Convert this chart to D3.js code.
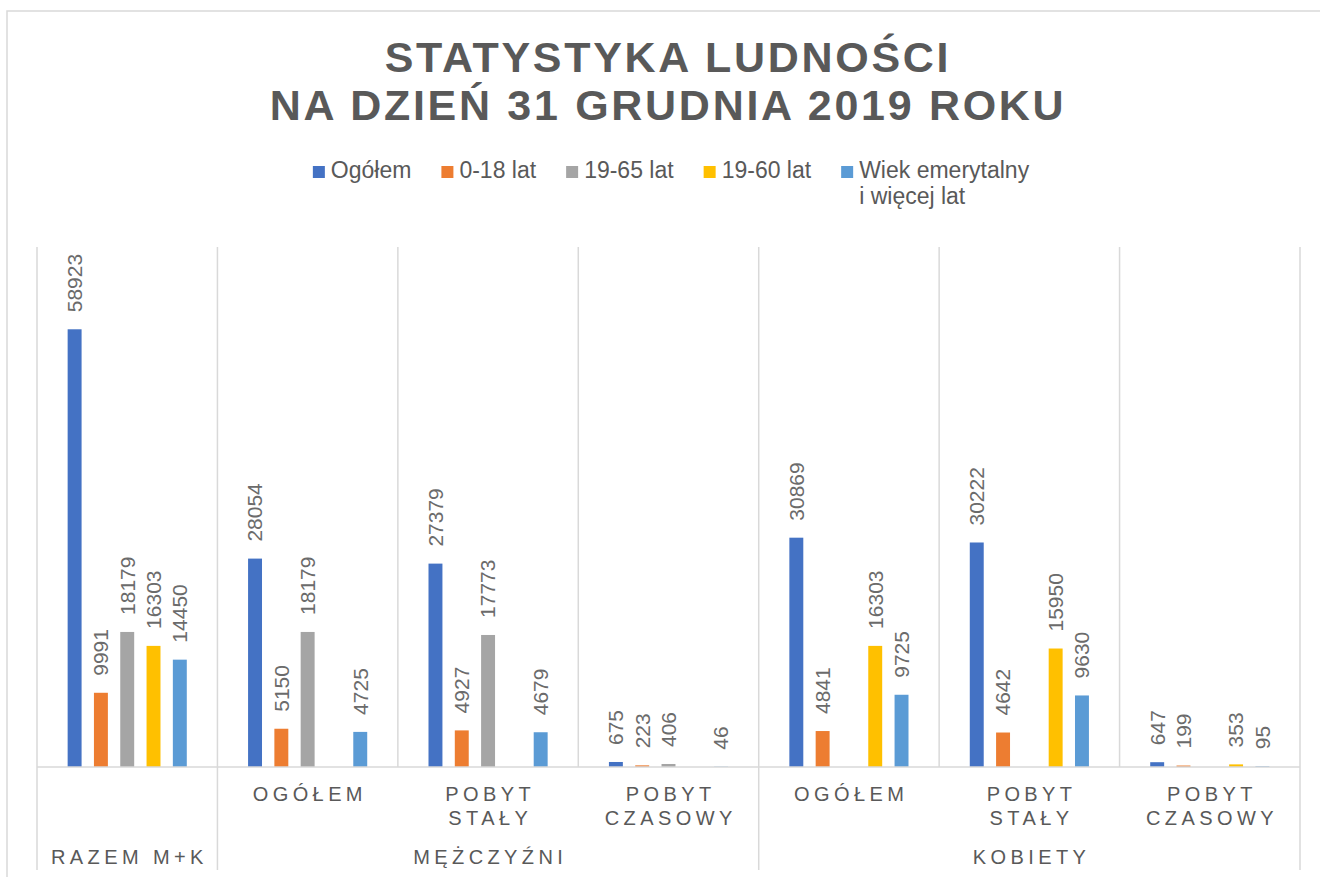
<!DOCTYPE html>
<html>
<head>
<meta charset="utf-8">
<script src="https://cdn.jsdelivr.net/npm/d3@7/dist/d3.min.js"></script>
<style>
  html, body { margin: 0; padding: 0; background: #fff; }
  svg { display: block; font-family: "Liberation Sans", Arial, sans-serif; }
</style>
</head>
<body>
<svg id="chart" width="1320" height="877"></svg>
<script>
// ---- data ----
const titleLines = ["STATYSTYKA LUDNOŚCI", "NA DZIEŃ 31 GRUDNIA 2019 ROKU"];
const categories = ["", "OGÓŁEM", "POBYT\nSTAŁY", "POBYT\nCZASOWY", "OGÓŁEM", "POBYT\nSTAŁY", "POBYT\nCZASOWY"];
const groupNames = ["RAZEM M+K", "MĘŻCZYŹNI", "KOBIETY"];
const groupSizes = [1, 3, 3];
const seriesNames = ["Ogółem", "0-18 lat", "19-65 lat", "19-60 lat", "Wiek emerytalny\ni więcej lat"];
const seriesColors = ["#4472C4", "#ED7D31", "#A5A5A5", "#FFC000", "#5B9BD5"];
const valOgolem   = [58923, 28054, 27379, 675, 30869, 30222, 647];
const val0_18     = [9991, 5150, 4927, 223, 4841, 4642, 199];
const val19_65    = [18179, 18179, 17773, 406, null, null, null];
const val19_60    = [16303, null, null, null, 16303, 15950, 353];
const valEmeryt   = [14450, 4725, 4679, 46, 9725, 9630, 95];
const seriesValues = [valOgolem, val0_18, val19_65, val19_60, valEmeryt];
const yDomain = [0, 70000];

// ---- layout ----
const svg = d3.select("#chart");
const plot = { left: 37, right: 1300, top: 247, bottom: 767 };
const gridColor = "#d9d9d9";
const textColor = "#595959";

// chart border
svg.append("rect").attr("x", 7).attr("y", 11).attr("width", 1400).attr("height", 1000)
  .attr("fill", "#fff").attr("stroke", gridColor).attr("stroke-width", 1.5);

// title
const title = svg.append("text").attr("text-anchor", "middle")
  .attr("font-size", 43).attr("font-weight", "bold").attr("fill", textColor)
  .style("letter-spacing", "2.7px");
title.selectAll("tspan").data(titleLines).join("tspan")
  .attr("x", 668).attr("y", (d, i) => 72 + i * 48).text(d => d);

// scales
const catIdx = categories.map((d, i) => i);
const x0 = d3.scaleBand().domain(catIdx).range([plot.left, plot.right]).padding(0);
const x1 = d3.scaleBand().domain(seriesNames.map((d, i) => i))
  .range([0, x0.bandwidth()]).paddingInner(0.47).paddingOuter(1.165);
const y = d3.scaleLinear().domain(yDomain).range([plot.bottom, plot.top]);

// vertical category gridlines in plot area
const bounds = catIdx.map(i => x0(i)).concat([plot.right]);
svg.append("g").selectAll("line").data(bounds).join("line")
  .attr("x1", d => d).attr("x2", d => d)
  .attr("y1", y(yDomain[1])).attr("y2", y(0))
  .attr("stroke", gridColor).attr("stroke-width", 1.5);

// group boundaries below axis
let acc = 0;
const groupBounds = [x0(0)];
const groupCenters = [];
groupSizes.forEach(s => {
  const start = x0(acc);
  acc += s;
  const end = acc < categories.length ? x0(acc) : plot.right;
  groupBounds.push(end);
  groupCenters.push((start + end) / 2);
});
svg.append("g").selectAll("line").data(groupBounds).join("line")
  .attr("x1", d => d).attr("x2", d => d)
  .attr("y1", y(0)).attr("y2", 870)
  .attr("stroke", gridColor).attr("stroke-width", 1.5);

// bars
const barData = [];
seriesValues.forEach((vals, s) => vals.forEach((v, c) => {
  if (v !== null) barData.push({ s, c, v });
}));
svg.append("g").selectAll("rect").data(barData).join("rect")
  .attr("x", d => x0(d.c) + x1(d.s))
  .attr("width", x1.bandwidth())
  .attr("y", d => y(d.v))
  .attr("height", d => y(0) - y(d.v))
  .attr("fill", d => seriesColors[d.s]);

// axis baseline
svg.append("line").attr("x1", plot.left).attr("x2", plot.right)
  .attr("y1", y(0)).attr("y2", y(0)).attr("stroke", gridColor).attr("stroke-width", 1.5);

// data labels
svg.append("g").selectAll("text").data(barData).join("text")
  .attr("transform", d => `translate(${x0(d.c) + x1(d.s) + x1.bandwidth() / 2},${y(d.v) - 17}) rotate(-90)`)
  .attr("dy", "0.35em")
  .attr("font-size", 21).attr("fill", "#6b6b6b")
  .text(d => d.v);

// category labels
const catG = svg.append("g");
categories.forEach((lab, i) => {
  if (!lab) return;
  const t = catG.append("text").attr("text-anchor", "middle")
    .attr("font-size", 20).attr("fill", textColor).style("letter-spacing", "4.4px");
  lab.split("\n").forEach((line, k) => {
    t.append("tspan").attr("x", x0(i) + x0.bandwidth() / 2 + 2.2)
      .attr("y", 801 + k * 23.5).text(line);
  });
});
groupNames.forEach((g, i) => {
  catG.append("text").attr("text-anchor", "middle")
    .attr("x", groupCenters[i] + 2.2).attr("y", 864)
    .attr("font-size", 20).attr("fill", textColor).style("letter-spacing", "4.4px")
    .text(g);
});

// legend
const legend = svg.append("g");
const items = [];
seriesNames.forEach((name, i) => {
  const g = legend.append("g");
  g.append("rect").attr("width", 12).attr("height", 12).attr("y", 166).attr("fill", seriesColors[i]);
  const t = g.append("text").attr("x", 18).attr("font-size", 23).attr("fill", textColor);
  name.split("\n").forEach((line, k) => {
    t.append("tspan").attr("x", 18).attr("y", 178 + k * 26).text(line);
  });
  const w = d3.max(t.selectAll("tspan").nodes(), n => n.getComputedTextLength());
  items.push({ g, w: 18 + w });
});
const total = d3.sum(items, d => d.w) + 30 * (items.length - 1);
let lx = 671 - total / 2;
items.forEach(it => {
  it.g.attr("transform", `translate(${lx},0)`);
  lx += it.w + 30;
});
</script>
</body>
</html>
